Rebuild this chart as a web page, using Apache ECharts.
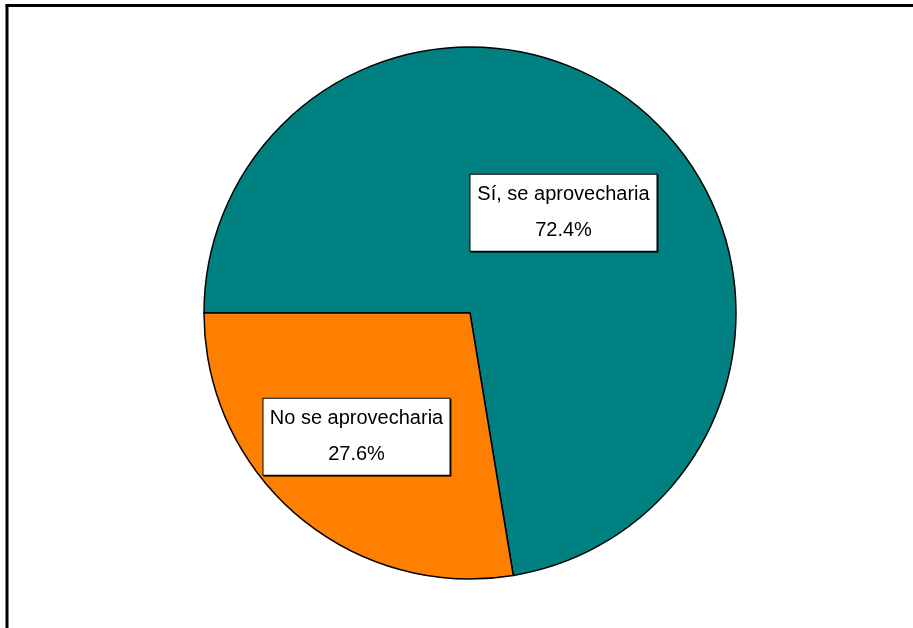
<!DOCTYPE html>
<html>
<head>
<meta charset="utf-8">
<script src="https://cdn.jsdelivr.net/npm/echarts@6/dist/echarts.min.js"></script>
<style>html,body{margin:0;padding:0;background:#fff;}#chart{width:913px;height:628px;}</style>
</head>
<body>
<div id="chart"></div>
<script>
const categories = ['Sí, se aprovecharia', 'No se aprovecharia'];
const values = [72.4, 27.6];
const colors = ['#008080', '#FF8000'];
const labelOffsets = [[5.5, 3.5], [-25.5, 20]];

const chart = echarts.init(document.getElementById('chart'), null, {renderer: 'canvas'});
chart.setOption({
  animation: false,
  backgroundColor: '#ffffff',
  graphic: [
    {type: 'line', shape: {x1: 7, y1: 5, x2: 7, y2: 640}, style: {stroke: '#000', lineWidth: 3}},
    {type: 'line', shape: {x1: 5.5, y1: 5.5, x2: 920, y2: 5.5}, style: {stroke: '#000', lineWidth: 3}}
  ],
  series: [{
    type: 'pie',
    center: [470, 313],
    radius: 266,
    startAngle: 180,
    clockwise: true,
    avoidLabelOverlap: false,
    itemStyle: {borderColor: '#000', borderWidth: 1.5},
    labelLine: {show: false},
    emphasis: {disabled: true},
    data: categories.map((name, i) => ({
      name: name,
      value: values[i],
      itemStyle: {color: colors[i]},
      label: {offset: labelOffsets[i]}
    })),
    label: {
      show: true,
      position: 'inside',
      formatter: '{b}\n\n{c}%',
      fontFamily: 'Liberation Sans, Arial, sans-serif',
      fontSize: 20,
      lineHeight: 18,
      color: '#000',
      align: 'center',
      width: 186,
      backgroundColor: '#ffffff',
      borderColor: '#000',
      borderWidth: 1,
      shadowColor: 'rgba(0,0,0,0.8)',
      shadowOffsetX: 1,
      shadowOffsetY: 1,
      shadowBlur: 0,
      padding: [6, 0, 16, 0]
    }
  }]
});
</script>
</body>
</html>
